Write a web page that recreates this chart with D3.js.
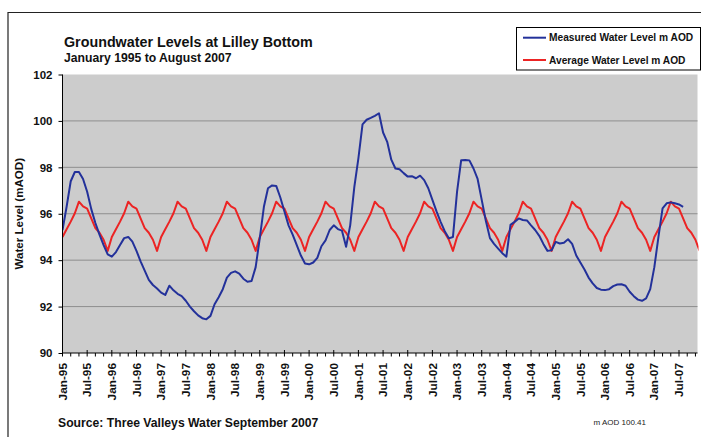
<!DOCTYPE html>
<html>
<head>
<meta charset="utf-8">
<script src="https://cdn.jsdelivr.net/npm/d3@7/dist/d3.min.js"></script>
<style>
  body { margin: 0; background: #fff; }
  svg { display: block; font-family: "Liberation Sans", Arial, sans-serif; }
</style>
</head>
<body>
<svg id="chart" width="701" height="437"></svg>
<script>
// ---- Data (monthly, index 0 = Jan-95) ----
const tickLabels = ["Jan-95","Jul-95","Jan-96","Jul-96","Jan-97","Jul-97","Jan-98","Jul-98",
  "Jan-99","Jul-99","Jan-00","Jul-00","Jan-01","Jul-01","Jan-02","Jul-02","Jan-03","Jul-03",
  "Jan-04","Jul-04","Jan-05","Jul-05","Jan-06","Jul-06","Jan-07","Jul-07"];

const measured = [
  95.3, 96.3, 97.4, 97.8, 97.8, 97.5, 96.95, 96.2, 95.6, 95.1, 94.65, 94.25,
  94.15, 94.35, 94.65, 94.95, 95.0, 94.8, 94.4, 93.95, 93.55, 93.15, 92.93, 92.78,
  92.6, 92.5, 92.9, 92.7, 92.55, 92.45, 92.25, 92.0, 91.8, 91.62, 91.5, 91.45,
  91.6, 92.1, 92.4, 92.75, 93.25, 93.45, 93.52, 93.42, 93.2, 93.07, 93.1, 93.7,
  94.95, 96.3, 97.1, 97.22, 97.2, 96.7, 96.1, 95.5, 95.1, 94.65, 94.2, 93.86,
  93.82, 93.9, 94.1, 94.6, 94.85, 95.3, 95.5, 95.34, 95.27, 94.58, 95.5, 97.15,
  98.4, 99.85, 100.05, 100.13, 100.22, 100.33, 99.5, 99.1, 98.33, 97.95, 97.92, 97.75,
  97.6, 97.62, 97.53, 97.64, 97.45, 97.1, 96.6, 96.1, 95.65, 95.25, 94.94, 95.0,
  96.95, 98.31, 98.32, 98.3, 97.95, 97.5, 96.6, 95.7, 94.95, 94.7, 94.5, 94.3,
  94.15, 95.52, 95.65, 95.8, 95.73, 95.71, 95.5, 95.3, 95.05, 94.7, 94.4, 94.43,
  94.79, 94.72, 94.75, 94.9, 94.7, 94.2, 93.9, 93.6, 93.25, 93.0, 92.8, 92.73,
  92.71, 92.75, 92.88, 92.95, 92.96, 92.9, 92.64, 92.45, 92.3, 92.25, 92.35, 92.75,
  93.7, 95.0, 96.23, 96.45, 96.49, 96.45, 96.4, 96.3
];

const average = [
  95.0, 95.33, 95.66, 96.02, 96.52, 96.32, 96.22, 95.8, 95.38, 95.18, 94.88, 94.4,
  95.0, 95.33, 95.66, 96.02, 96.52, 96.32, 96.22, 95.8, 95.38, 95.18, 94.88, 94.4,
  95.0, 95.33, 95.66, 96.02, 96.52, 96.32, 96.22, 95.8, 95.38, 95.18, 94.88, 94.4,
  95.0, 95.33, 95.66, 96.02, 96.52, 96.32, 96.22, 95.8, 95.38, 95.18, 94.88, 94.4,
  95.0, 95.33, 95.66, 96.02, 96.52, 96.32, 96.22, 95.8, 95.38, 95.18, 94.88, 94.4,
  95.0, 95.33, 95.66, 96.02, 96.52, 96.32, 96.22, 95.8, 95.38, 95.18, 94.88, 94.4,
  95.0, 95.33, 95.66, 96.02, 96.52, 96.32, 96.22, 95.8, 95.38, 95.18, 94.88, 94.4,
  95.0, 95.33, 95.66, 96.02, 96.52, 96.32, 96.22, 95.8, 95.38, 95.18, 94.88, 94.4,
  95.0, 95.33, 95.66, 96.02, 96.52, 96.32, 96.22, 95.8, 95.38, 95.18, 94.88, 94.4,
  95.0, 95.33, 95.66, 96.02, 96.52, 96.32, 96.22, 95.8, 95.38, 95.18, 94.88, 94.4,
  95.0, 95.33, 95.66, 96.02, 96.52, 96.32, 96.22, 95.8, 95.38, 95.18, 94.88, 94.4,
  95.0, 95.33, 95.66, 96.02, 96.52, 96.32, 96.22, 95.8, 95.38, 95.18, 94.88, 94.4,
  95.0, 95.33, 95.66, 96.02, 96.52, 96.32, 96.22, 95.8, 95.38, 95.18, 94.88, 94.4
];

const yTicks = [90, 92, 94, 96, 98, 100, 102];
const seriesNames = ["Measured Water Level m AOD", "Average Water Level m AOD"];

// ---- Layout ----
const plot = { left: 62.5, right: 697.5, top: 74.5, bottom: 353 };
const svg = d3.select("#chart");

const x = d3.scaleLinear().domain([0, 155]).range([plot.left, plot.left + 155 * 4.11]);
const y = d3.scaleLinear().domain([90, 102]).range([plot.bottom, plot.top]);

// outer frame
svg.append("path").attr("d", "M8,437V12.5H701")
  .attr("fill", "none").attr("stroke", "#222").attr("stroke-width", 1.2);

// plot background
svg.append("rect").attr("x", plot.left).attr("y", plot.top)
  .attr("width", plot.right - plot.left).attr("height", plot.bottom - plot.top)
  .attr("fill", "#cccccc");

// gridlines
svg.append("g").selectAll("line").data(yTicks.filter(v => v > 90 && v < 102)).join("line")
  .attr("x1", plot.left).attr("x2", plot.right)
  .attr("y1", d => y(d)).attr("y2", d => y(d))
  .attr("stroke", "#8e8e8e").attr("stroke-width", 1);

// clip
svg.append("clipPath").attr("id", "clip").append("rect")
  .attr("x", plot.left).attr("y", plot.top - 2)
  .attr("width", plot.right - plot.left + 1).attr("height", plot.bottom - plot.top + 4);

const line = d3.line().x((d, i) => x(i)).y(d => y(d));

svg.append("path").datum(average).attr("clip-path", "url(#clip)")
  .attr("d", line).attr("fill", "none").attr("stroke", "#ec2424")
  .attr("stroke-width", 2).attr("stroke-linejoin", "round");

svg.append("path").datum(measured).attr("clip-path", "url(#clip)")
  .attr("d", line).attr("fill", "none").attr("stroke", "#23319a")
  .attr("stroke-width", 2).attr("stroke-linejoin", "round");

// y axis
const yAxis = d3.axisLeft(y).tickValues(yTicks).tickSize(4).tickPadding(6).tickFormat(d3.format("d"));
const gy = svg.append("g").attr("transform", `translate(${plot.left},0)`).call(yAxis);
gy.select(".domain").attr("stroke", "#000").attr("d", `M0,${plot.top}V${plot.bottom}`);
gy.selectAll(".tick line").attr("stroke", "#000");
gy.selectAll("text").attr("font-size", "11.5px").attr("font-weight", "bold")
  .attr("fill", "#111").attr("font-family", "'Liberation Sans', Arial, sans-serif");

// x axis
const minorIdx = d3.range(0, 155, 2);
const gx = svg.append("g").attr("transform", `translate(0,${plot.bottom})`);
gx.append("line").attr("x1", plot.left).attr("x2", plot.right).attr("y1", 0).attr("y2", 0)
  .attr("stroke", "#000").attr("stroke-width", 1);
gx.selectAll("line.tk").data(minorIdx).join("line").attr("class", "tk")
  .attr("x1", d => x(d)).attr("x2", d => x(d))
  .attr("y1", d => d % 6 === 0 ? -3 : 0).attr("y2", 3.5)
  .attr("stroke", "#000").attr("stroke-width", 1);
gx.selectAll("text").data(tickLabels).join("text")
  .attr("transform", (d, i) => `translate(${x(i * 6)},10) rotate(-90)`)
  .attr("text-anchor", "end").attr("dy", "0.35em")
  .attr("font-size", "11.8px").attr("font-weight", "bold").attr("fill", "#111")
  .text(d => d);

// y axis title
svg.append("text").attr("transform", `translate(23,${(plot.top + plot.bottom) / 2}) rotate(-90)`)
  .attr("text-anchor", "middle").attr("font-size", "11.6px").attr("font-weight", "bold")
  .attr("fill", "#111").text("Water Level (mAOD)");

// titles
svg.append("text").attr("x", 64).attr("y", 46.5).attr("font-size", "14.3px")
  .attr("font-weight", "bold").attr("fill", "#111").text("Groundwater Levels at Lilley Bottom");
svg.append("text").attr("x", 64).attr("y", 61.5).attr("font-size", "12.2px")
  .attr("font-weight", "bold").attr("fill", "#111").text("January 1995 to August 2007");

// legend
const lg = svg.append("g");
lg.append("rect").attr("x", 516.5).attr("y", 27.5).attr("width", 184).attr("height", 42.5)
  .attr("fill", "#fff").attr("stroke", "#000").attr("stroke-width", 1);
const legendColors = ["#23319a", "#ec2424"];
seriesNames.forEach((name, i) => {
  const cy = 37.7 + i * 22.3;
  lg.append("line").attr("x1", 523).attr("x2", 546).attr("y1", cy).attr("y2", cy)
    .attr("stroke", legendColors[i]).attr("stroke-width", 2);
  lg.append("text").attr("x", 549).attr("y", cy + 3.6).attr("font-size", "10.2px")
    .attr("font-weight", "bold").attr("fill", "#111").text(name);
});

// footer
svg.append("text").attr("x", 58).attr("y", 426.5).attr("font-size", "12.2px")
  .attr("font-weight", "bold").attr("fill", "#111").text("Source: Three Valleys Water September 2007");
svg.append("text").attr("x", 593.5).attr("y", 425.2).attr("font-size", "8px")
  .attr("fill", "#222").text("m AOD 100.41");
</script>
</body>
</html>
